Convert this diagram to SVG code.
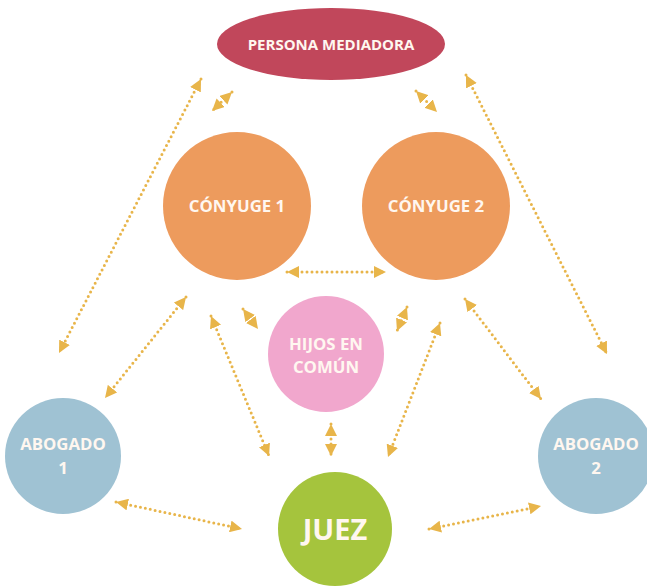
<svg xmlns="http://www.w3.org/2000/svg" width="647" height="588" viewBox="0 0 647 588">
<style>
.lbl{font-family:"Open Sans","Liberation Sans",sans-serif;font-weight:700;fill:#fff7f0;text-anchor:middle}
.c{stroke:#e8b54a;stroke-width:3;stroke-dasharray:0 5;stroke-linecap:round;fill:none;marker-start:url(#ah);marker-end:url(#ah)}
</style>
<defs>
<marker id="ah" markerUnits="userSpaceOnUse" markerWidth="12" markerHeight="12" viewBox="0 0 10 10" refX="10" refY="5" orient="auto-start-reverse">
<path d="M0,0 L10,5 L0,10 z" fill="#e8b54a"/>
</marker>
</defs>
<rect width="647" height="588" fill="#ffffff"/>
<g id="connectors">
<line class="c" x1="201" y1="79" x2="59" y2="353"/>
<line class="c" x1="232" y1="92" x2="212" y2="111"/>
<line class="c" x1="416" y1="91" x2="437" y2="112"/>
<line class="c" x1="466" y1="75" x2="607" y2="354"/>
<line class="c" x1="287" y1="272" x2="386" y2="272"/>
<line class="c" x1="186" y1="297" x2="105" y2="398"/>
<line class="c" x1="243" y1="309" x2="258" y2="329"/>
<line class="c" x1="211" y1="316" x2="269" y2="456"/>
<line class="c" x1="407" y1="307" x2="397" y2="331"/>
<line class="c" x1="440" y1="323" x2="388" y2="457"/>
<line class="c" x1="465" y1="299" x2="541" y2="399"/>
<line class="c" x1="331" y1="424" x2="331" y2="456"/>
<line class="c" x1="116" y1="502" x2="242" y2="529"/>
<line class="c" x1="429" y1="529" x2="541" y2="506"/>
</g>
<g id="mediadora">
<ellipse cx="331" cy="44" rx="114" ry="36" fill="#c1475b"/>
<text class="lbl" x="331" y="49.5" font-size="15">PERSONA MEDIADORA</text>
</g>
<g id="conyuge1">
<circle cx="237" cy="206" r="74" fill="#ed9b5d"/>
<text class="lbl" x="237" y="212" font-size="16.8">CÓNYUGE 1</text>
</g>
<g id="conyuge2">
<circle cx="436" cy="206" r="74" fill="#ed9b5d"/>
<text class="lbl" x="436" y="212" font-size="16.8">CÓNYUGE 2</text>
</g>
<g id="hijos">
<circle cx="326" cy="354" r="58" fill="#f1a7cd"/>
<text class="lbl" x="326" y="350" font-size="16.8">HIJOS EN</text>
<text class="lbl" x="326" y="373" font-size="16.8">COMÚN</text>
</g>
<g id="abogado1">
<circle cx="63" cy="456" r="58" fill="#9fc2d3"/>
<text class="lbl" x="63" y="450" font-size="16.8">ABOGADO</text>
<text class="lbl" x="63" y="474" font-size="16.8">1</text>
</g>
<g id="abogado2">
<circle cx="596" cy="456" r="58" fill="#9fc2d3"/>
<text class="lbl" x="596" y="450" font-size="16.8">ABOGADO</text>
<text class="lbl" x="596" y="474" font-size="16.8">2</text>
</g>
<g id="juez">
<circle cx="335" cy="529" r="57" fill="#a5c43d"/>
<text class="lbl" x="335" y="540" font-size="29">JUEZ</text>
</g>
</svg>
